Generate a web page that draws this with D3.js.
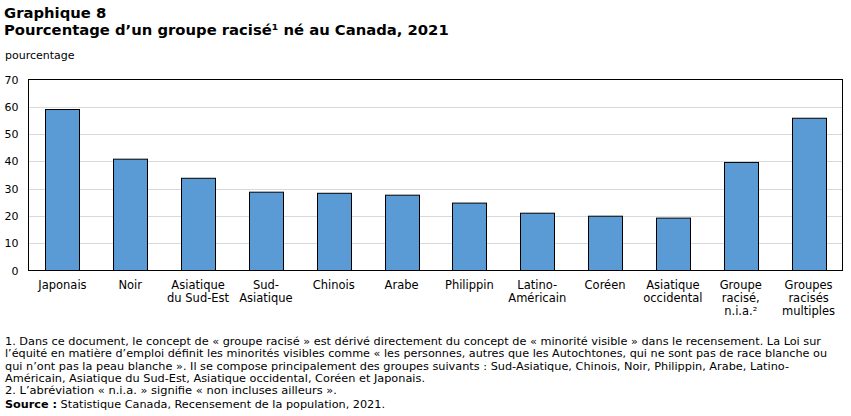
<!DOCTYPE html>
<html><head><meta charset="utf-8">
<script src="https://cdn.jsdelivr.net/npm/d3@7/dist/d3.min.js"></script>
<style>body{margin:0;background:#fff}svg{display:block}text{font-family:Verdana,"DejaVu Sans",sans-serif;}</style>
</head><body>
<script>
const categories = [["Japonais"],["Noir"],["Asiatique","du Sud-Est"],["Sud-","Asiatique"],["Chinois"],["Arabe"],["Philippin"],["Latino-","Américain"],["Coréen"],["Asiatique","occidental"],["Groupe","racisé,","n.i.a.²"],["Groupes","racisés","multiples"]];
const values = [59.0, 40.8, 33.8, 28.7, 28.3, 27.6, 24.7, 21.0, 19.9, 19.2, 39.6, 55.8];
const yTicks = [0,10,20,30,40,50,60,70];
const titleLines = ["Graphique 8","Pourcentage d’un groupe racisé¹ né au Canada, 2021"];
const yLabel = "pourcentage";
const notes = [
 "1. Dans ce document, le concept de « groupe racisé » est dérivé directement du concept de « minorité visible » dans le recensement. La Loi sur",
 "l’équité en matière d’emploi définit les minorités visibles comme « les personnes, autres que les Autochtones, qui ne sont pas de race blanche ou",
 "qui n’ont pas la peau blanche ».  Il se compose principalement des groupes suivants :  Sud-Asiatique, Chinois, Noir, Philippin, Arabe, Latino-",
 "Américain, Asiatique du Sud-Est, Asiatique occidental, Coréen et Japonais.",
 "2. L’abréviation « n.i.a. » signifie « non incluses ailleurs »."
];
const sourceBold = "Source :";
const sourceText = " Statistique  Canada, Recensement de la population, 2021.";

const W=851,H=416;
const svg=d3.select("body").append("svg").attr("width",W).attr("height",H);
const m={l:28.5,r:842.5,t:79.5,b:270.5};
const x=d3.scaleBand().domain(categories.map((d,i)=>i)).range([m.l,m.r]).paddingInner(0.5).paddingOuter(0.25);
const y=d3.scaleLinear().domain([0,70]).range([m.b,m.t]);

// titles
svg.append("text").attr("x",4).attr("y",18).attr("font-size",14.8).attr("font-weight","bold").text(titleLines[0]);
svg.append("text").attr("x",4).attr("y",35).attr("font-size",14.8).attr("font-weight","bold").text(titleLines[1]);
svg.append("text").attr("x",5).attr("y",59).attr("font-size",11).text(yLabel);

// grid
svg.append("g").selectAll("line").data(yTicks.filter(d=>d>0&&d<70)).join("line")
 .attr("x1",m.l).attr("x2",m.r).attr("y1",d=>Math.round(y(d))+0.5).attr("y2",d=>Math.round(y(d))+0.5)
 .attr("stroke","#d9d9d9").attr("stroke-width",1);

// y axis labels
const ya=d3.axisLeft(y).tickValues(yTicks).tickSize(0).tickPadding(10);
const yg=svg.append("g").attr("transform",`translate(${m.l},0)`).call(ya);
yg.select(".domain").remove();
yg.selectAll("text").attr("font-size",11).attr("fill","#000").attr("font-family","Verdana,'DejaVu Sans',sans-serif");

// bars
svg.append("g").selectAll("rect").data(values).join("rect")
 .attr("x",(d,i)=>Math.round(x(i))+0.5).attr("width",Math.round(x.bandwidth()))
 .attr("y",d=>y(d)).attr("height",d=>m.b-y(d))
 .attr("fill","#5b9bd5").attr("stroke","#000").attr("stroke-width",1);

// frame
svg.append("rect").attr("x",m.l).attr("y",m.t).attr("width",m.r-m.l).attr("height",m.b-m.t)
 .attr("fill","none").attr("stroke","#000").attr("stroke-width",1);

// x labels
const xg=svg.append("g");
categories.forEach((lines,i)=>{
 const t=xg.append("text").attr("x",x(i)+x.bandwidth()/2).attr("y",289).attr("text-anchor","middle").attr("font-size",11.5);
 lines.forEach((l,j)=>t.append("tspan").attr("x",x(i)+x.bandwidth()/2).attr("dy",j?13:0).text(l));
});

// notes
const noteEnds=[821,827,789,425,337];
const noteY=[345,357,370,382,394];
notes.forEach((n,i)=>{
 svg.append("text").attr("x",5).attr("y",noteY[i]).attr("font-size",11)
  .attr("textLength",noteEnds[i]-5).attr("lengthAdjust","spacingAndGlyphs").text(n);
});
const st=svg.append("text").attr("x",5).attr("y",408).attr("font-size",11)
 .attr("textLength",380).attr("lengthAdjust","spacingAndGlyphs");
st.append("tspan").attr("font-weight","bold").text(sourceBold);
st.append("tspan").text(sourceText);
</script>
</body></html>
